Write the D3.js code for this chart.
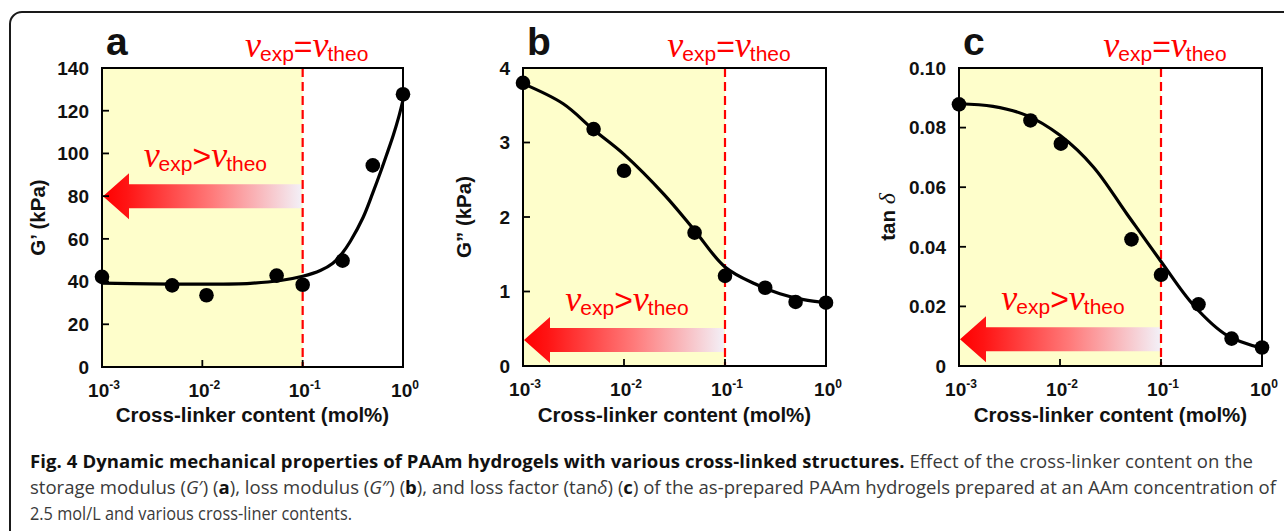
<!doctype html>
<html>
<head>
<meta charset="utf-8">
<script src="https://cdn.jsdelivr.net/npm/d3@7"></script>
<style>
  body { margin: 0; background: #fff; }
  svg { display: block; }
</style>
</head>
<body>
<svg id="fig" width="1284" height="531"></svg>
<script>
  // x axis (shared): cross-linker content, mol%
  var xTicks = [1e-3, 1e-2, 1e-1, 1];
  var xTickExp = ['-3', '-2', '-1', '0'];
  var xBoundary = 0.1; // nu_exp = nu_theo

  // a: storage modulus G' (kPa)
  var aX = [0.001, 0.005, 0.011, 0.055, 0.1, 0.25, 0.5, 1.0];
  var aY = [42.2, 38.2, 33.6, 42.8, 38.5, 49.8, 94.4, 127.7];
  var aFitX = [0.001, 0.003, 0.01, 0.03, 0.06, 0.1, 0.15, 0.2, 0.25, 0.3, 0.4, 0.5, 0.6, 0.7, 0.8, 0.9, 1.0];
  var aFitY = [39.3, 38.9, 38.8, 39.2, 40.5, 42.5, 45.2, 48.6, 53.5, 59, 70, 81.5, 91.5, 100.5, 108.5, 116.5, 125];
  var aTicks = [0, 20, 40, 60, 80, 100, 120, 140];

  // b: loss modulus G'' (kPa)
  var bX = [0.001, 0.005, 0.01, 0.05, 0.1, 0.25, 0.5, 1.0];
  var bY = [3.80, 3.18, 2.62, 1.79, 1.21, 1.05, 0.86, 0.85];
  var bFitX = [0.001, 0.0025, 0.005, 0.01, 0.025, 0.05, 0.1, 0.2, 0.35, 0.6, 1.0];
  var bFitY = [3.79, 3.52, 3.17, 2.84, 2.30, 1.82, 1.33, 1.10, 0.97, 0.89, 0.85];
  var bTicks = [0, 1, 2, 3, 4];

  // c: loss factor tan delta
  var cX = [0.001, 0.0051, 0.0102, 0.051, 0.1, 0.235, 0.5, 1.0];
  var cY = [0.0878, 0.0824, 0.0746, 0.0425, 0.0306, 0.0207, 0.0092, 0.0062];
  var cFitX = [0.001, 0.00217, 0.00466, 0.01, 0.0214, 0.0458, 0.098, 0.21, 0.45, 1.0];
  var cFitY = [0.0880, 0.0871, 0.0841, 0.0774, 0.0668, 0.0511, 0.0355, 0.0204, 0.0103, 0.0060];
  var cTicks = [0, 0.02, 0.04, 0.06, 0.08, 0.10];

  var SANS = 'Liberation Sans, Arial, sans-serif';
  var SERIF = 'Liberation Serif, Times New Roman, serif';
  var RED = '#ff0000';

  var panels = [
    { letter: 'a', left: 102, right: 403, top: 68, bottom: 367, yMax: 140, ticks: aTicks,
      fmt: d3.format('d'), xs: aX, ys: aY, fx: aFitX, fy: aFitY, arrowY: 80, titleX: 38,
      title: [['G’ (kPa)', 'normal']] },
    { letter: 'b', left: 523, right: 826, top: 68, bottom: 366, yMax: 4, ticks: bTicks,
      fmt: d3.format('d'), xs: bX, ys: bY, fx: bFitX, fy: bFitY, arrowY: 0.35, titleX: 464,
      title: [['G” (kPa)', 'normal']] },
    { letter: 'c', left: 959, right: 1262, top: 68, bottom: 366, yMax: 0.10, ticks: cTicks,
      fmt: function (d) { return d === 0 ? '0' : d3.format('.2f')(d); },
      xs: cX, ys: cY, fx: cFitX, fy: cFitY, arrowY: 0.009, titleX: 888,
      title: [['tan ', 'normal'], ['δ', 'italic']] }
  ];

  var svg = d3.select('#fig');
  var defs = svg.append('defs');

  // outer frame, only its top-left corner is inside the picture
  svg.append('rect')
    .attr('x', 10).attr('y', 12).attr('width', 1300).attr('height', 560)
    .attr('rx', 12).attr('fill', 'none').attr('stroke', '#1a1a1a').attr('stroke-width', 2);

  function nuLabel(g, x, y, op) {
    var t = g.append('text').attr('x', x).attr('y', y)
      .attr('text-anchor', 'middle').attr('fill', RED).attr('font-family', SANS);
    t.append('tspan').attr('font-family', SERIF).attr('font-style', 'italic').attr('font-size', 36).text('ν');
    t.append('tspan').attr('font-size', 21).attr('dy', 4).attr('dx', -1).text('exp');
    t.append('tspan').attr('font-size', 32).attr('dy', -4).text(op);
    t.append('tspan').attr('font-family', SERIF).attr('font-style', 'italic').attr('font-size', 36).text('ν');
    t.append('tspan').attr('font-size', 21).attr('dy', 4).attr('dx', -1).text('theo');
  }

  panels.forEach(function (p, i) {
    var x = d3.scaleLog().domain([1e-3, 1]).range([p.left, p.right]);
    var y = d3.scaleLinear().domain([0, p.yMax]).range([p.bottom, p.top]);
    var g = svg.append('g');

    // shaded region nu_exp > nu_theo
    g.append('rect')
      .attr('x', x(1e-3)).attr('y', p.top)
      .attr('width', x(xBoundary) - x(1e-3)).attr('height', p.bottom - p.top)
      .attr('fill', '#fefecb');

    // gradient arrow pointing to low cross-linker content
    var gid = 'grad' + p.letter;
    var grad = defs.append('linearGradient').attr('id', gid)
      .attr('x1', '0').attr('x2', '1').attr('y1', '0').attr('y2', '0');
    grad.append('stop').attr('offset', '0').attr('stop-color', RED);
    grad.append('stop').attr('offset', '0.12').attr('stop-color', '#ff1414');
    grad.append('stop').attr('offset', '0.55').attr('stop-color', '#ff7a7a');
    grad.append('stop').attr('offset', '1').attr('stop-color', '#f3f0f7');

    var ax0 = x(1e-3) + 1, ax1 = x(xBoundary) - 1, ay = y(p.arrowY);
    var headL = 26, headH = 23, shaftH = 12;
    g.append('path')
      .attr('d', 'M' + ax0 + ',' + ay +
        'L' + (ax0 + headL) + ',' + (ay - headH) +
        'L' + (ax0 + headL) + ',' + (ay - shaftH) +
        'L' + ax1 + ',' + (ay - shaftH) +
        'L' + ax1 + ',' + (ay + shaftH) +
        'L' + (ax0 + headL) + ',' + (ay + shaftH) +
        'L' + (ax0 + headL) + ',' + (ay + headH) + 'Z')
      .attr('fill', 'url(#' + gid + ')');

    nuLabel(g, (ax0 + ax1) / 2 + 3, ay - 29, '>');

    // boundary line
    g.append('line')
      .attr('x1', x(xBoundary)).attr('x2', x(xBoundary))
      .attr('y1', p.top).attr('y2', p.bottom)
      .attr('stroke', RED).attr('stroke-width', 2.2).attr('stroke-dasharray', '9,5');

    nuLabel(g, x(xBoundary) + 4, 57, '=');

    // fitted curve
    var fit = p.fx.map(function (d, k) { return [d, p.fy[k]]; });
    g.append('path')
      .datum(fit)
      .attr('d', d3.line()
        .x(function (d) { return x(d[0]); })
        .y(function (d) { return y(d[1]); })
        .curve(d3.curveCatmullRom.alpha(0.5)))
      .attr('fill', 'none').attr('stroke', '#000').attr('stroke-width', 3.2)
      .attr('stroke-linecap', 'round');

    // measured points
    g.selectAll('circle.pt')
      .data(p.xs.map(function (d, k) { return [d, p.ys[k]]; }))
      .enter().append('circle')
      .attr('class', 'pt')
      .attr('cx', function (d) { return x(d[0]); })
      .attr('cy', function (d) { return y(d[1]); })
      .attr('r', 7.3)
      .attr('fill', '#000');

    // frame + inward ticks
    g.append('rect')
      .attr('x', p.left).attr('y', p.top)
      .attr('width', p.right - p.left).attr('height', p.bottom - p.top)
      .attr('fill', 'none').attr('stroke', '#000').attr('stroke-width', 2);

    g.selectAll('line.yt').data(p.ticks).enter().append('line')
      .attr('x1', p.left).attr('x2', p.left + 7)
      .attr('y1', function (d) { return y(d); }).attr('y2', function (d) { return y(d); })
      .attr('stroke', '#000').attr('stroke-width', 1.8);

    g.selectAll('text.yl').data(p.ticks).enter().append('text')
      .attr('x', p.left - 13).attr('y', function (d) { return y(d); })
      .attr('dy', '0.36em').attr('text-anchor', 'end')
      .attr('font-family', SANS).attr('font-weight', 'bold').attr('font-size', 19)
      .attr('fill', '#111')
      .text(p.fmt);

    g.selectAll('line.xt').data(xTicks).enter().append('line')
      .attr('x1', function (d) { return x(d); }).attr('x2', function (d) { return x(d); })
      .attr('y1', p.bottom).attr('y2', p.bottom - 7)
      .attr('stroke', '#000').attr('stroke-width', 1.8);

    xTicks.forEach(function (d, k) {
      var t = g.append('text')
        .attr('x', x(d) + 2).attr('y', p.bottom + 30)
        .attr('text-anchor', 'middle')
        .attr('font-family', SANS).attr('font-weight', 'bold').attr('fill', '#111');
      t.append('tspan').attr('font-size', 19).text('10');
      t.append('tspan').attr('font-size', 12).attr('dy', -8).text(xTickExp[k]);
    });

    g.append('text')
      .attr('x', (p.left + p.right) / 2).attr('y', 422)
      .attr('text-anchor', 'middle')
      .attr('font-family', SANS).attr('font-weight', 'bold').attr('font-size', 20.5)
      .attr('fill', '#111')
      .text('Cross-linker content (mol%)');

    var yt = g.append('text')
      .attr('transform', 'translate(' + p.titleX + ',' + ((p.top + p.bottom) / 2) + ') rotate(-90)')
      .attr('dy', '0.35em').attr('text-anchor', 'middle')
      .attr('font-family', SANS).attr('font-weight', 'bold').attr('font-size', 20.5)
      .attr('fill', '#111');
    p.title.forEach(function (s) {
      var ts = yt.append('tspan').text(s[0]);
      if (s[1] === 'italic') {
        ts.attr('font-family', SERIF).attr('font-style', 'italic').attr('font-weight', 'normal').attr('font-size', 24);
      }
    });

    g.append('text')
      .attr('x', p.left + 4).attr('y', 55)
      .attr('font-family', SANS).attr('font-weight', 'bold').attr('font-size', 39)
      .attr('fill', '#111')
      .text(p.letter);
  });

  // caption: one font size, fitted so the second line ends where it does in the figure
  var CAP = 'Open Sans, Noto Sans, sans-serif';
  var capX = 30;
  var cap = svg.append('g').attr('font-family', CAP).attr('fill', '#3a3a3a');

  var l1 = cap.append('text').attr('x', capX).attr('y', 468);
  l1.append('tspan').attr('font-weight', 'bold').attr('fill', '#111')
    .text('Fig. 4 Dynamic mechanical properties of PAAm hydrogels with various cross-linked structures.');
  l1.append('tspan').text(' Effect of the cross-linker content on the');

  var l2 = cap.append('text').attr('x', capX).attr('y', 494);
  var parts2 = [
    ['storage modulus (', ''], ['G', 'i'], ['′) (', ''], ['a', 'b'], ['), loss modulus (', ''],
    ['G', 'i'], ['″) (', ''], ['b', 'b'], ['), and loss factor (tan', ''], ['δ', 'i'], [') (', ''],
    ['c', 'b'], [') of the as-prepared PAAm hydrogels prepared at an AAm concentration of', '']
  ];
  parts2.forEach(function (s) {
    var ts = l2.append('tspan').text(s[0]);
    if (s[1] === 'i') ts.attr('font-style', 'italic');
    if (s[1] === 'b') ts.attr('font-weight', 'bold').attr('fill', '#111');
  });

  var l3 = cap.append('text').attr('x', capX).attr('y', 520)
    .text('2.5 mol/L and various cross-liner contents.');

  cap.attr('font-size', 16);
  var capSize = 16 * (1277 - capX) / l2.node().getComputedTextLength();
  cap.attr('font-size', capSize);
  var w1 = l1.node().getComputedTextLength();
  l1.attr('textLength', Math.min(w1 * 1.03, Math.max(w1 * 0.97, 1253 - capX))).attr('lengthAdjust', 'spacing');
  l3.attr('textLength', 322).attr('lengthAdjust', 'spacingAndGlyphs');
</script>
</body>
</html>
